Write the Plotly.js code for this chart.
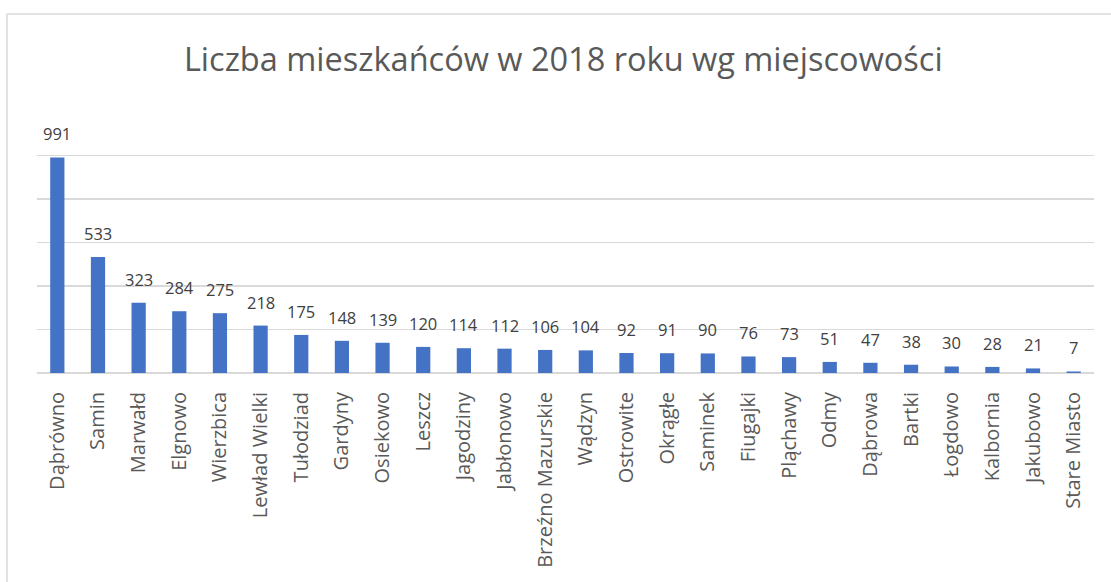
<!DOCTYPE html>
<html>
<head>
<meta charset="utf-8">
<script src="https://cdn.plot.ly/plotly-3.0.1.min.js"></script>
<style>html,body{margin:0;padding:0;background:#fff;}#chart{width:1111px;height:582px;}</style>
</head>
<body>
<div id="chart"></div>
<script>
const titleText = "Liczba mieszkańców w 2018 roku wg miejscowości";
const categories = ["Dąbrówno","Samin","Marwałd","Elgnowo","Wierzbica","Lewład Wielki","Tułodziad","Gardyny","Osiekowo","Leszcz","Jagodziny","Jabłonowo","Brzeźno Mazurskie","Wądzyn","Ostrowite","Okrągłe","Saminek","Fiugajki","Pląchawy","Odmy","Dąbrowa","Bartki","Łogdowo","Kalbornia","Jakubowo","Stare Miasto"];
const residents = [991,533,323,284,275,218,175,148,139,120,114,112,106,104,92,91,90,76,73,51,47,38,30,28,21,7];
const yTicks = [0,200,400,600,800,1000,1200];

const trace = {
  type: "bar",
  x: categories,
  y: residents,
  marker: {color: "#4472C4"},
  hoverinfo: "x+y"
};

const annotations = categories.map((c, i) => ({
  x: c, y: residents[i], xref: "x", yref: "y",
  text: String(residents[i]), showarrow: false,
  yanchor: "bottom", yshift: 10,
  font: {family: "Open Sans", size: 16.5, color: "#404040"}
}));

const layout = {
  width: 1111, height: 582,
  paper_bgcolor: "#ffffff", plot_bgcolor: "#ffffff",
  margin: {l: 37, r: 17, t: 112, b: 209, pad: 0},
  title: {
    text: titleText, x: 0.507, xanchor: "center", y: 0.898, yref: "container", yanchor: "middle",
    font: {family: "Open Sans", size: 32.5, color: "#595959"}
  },
  bargap: 0.65,
  showlegend: false,
  xaxis: {
    type: "category", tickangle: -90, showgrid: false, showline: false, zeroline: false,
    ticks: "", ticklabelstandoff: 14,
    tickfont: {family: "Open Sans", size: 20, color: "#595959"}
  },
  yaxis: {
    range: [0, 1200], tickvals: yTicks, showticklabels: false, showgrid: true,
    gridcolor: "#d9d9d9", gridwidth: 1.5, zeroline: true, zerolinecolor: "#d9d9d9", zerolinewidth: 1.5,
    showline: false, ticks: ""
  },
  annotations: annotations,
  shapes: [
    {type: "line", xref: "paper", yref: "paper", x0: -30/1057, x1: 1.1, y0: (373-14)/261, y1: (373-14)/261,
     line: {color: "#d9d9d9", width: 1.5}},
    {type: "line", xref: "paper", yref: "paper", x0: -30/1057, x1: -30/1057, y0: (373-14)/261, y1: -1.0,
     line: {color: "#d9d9d9", width: 1.5}}
  ]
};

Plotly.newPlot("chart", [trace], layout, {displayModeBar: false, staticPlot: true});
</script>
</body>
</html>
